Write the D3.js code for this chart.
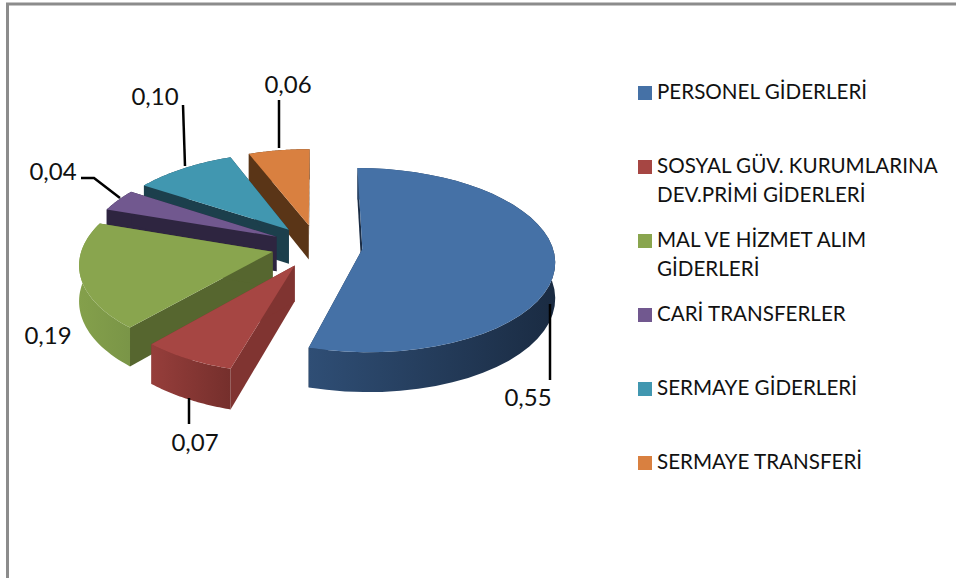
<!DOCTYPE html>
<html lang="tr">
<head>
    <meta charset="UTF-8">
    <title>Gider Dagilimi</title>
    <script src="https://d3js.org/d3.v7.min.js"></script>
    <style>
        body { margin: 0; background: #fff; }
        svg { display: block; }
        text { font-family: Lato, "Open Sans", sans-serif; fill: #111; }
    </style>
</head>
<body>
    <svg id="chart" width="956" height="578"></svg>
    <script>
        // chart data
        const categories = ["PERSONEL GİDERLERİ", "SOSYAL GÜV. KURUMLARINA DEV.PRİMİ GİDERLERİ", "MAL VE HİZMET ALIM GİDERLERİ", "CARİ TRANSFERLER", "SERMAYE GİDERLERİ", "SERMAYE TRANSFERİ"];
        const values = [0.55, 0.07, 0.19, 0.04, 0.10, 0.06];
        const legendLines = [["PERSONEL GİDERLERİ"], ["SOSYAL GÜV. KURUMLARINA", "DEV.PRİMİ GİDERLERİ"], ["MAL VE HİZMET ALIM", "GİDERLERİ"], ["CARİ TRANSFERLER"], ["SERMAYE GİDERLERİ"], ["SERMAYE TRANSFERİ"]];

        // colours: top face, radial wall, outer wall left and right
        const topColors = ["#4571a6", "#a64643", "#89a54e", "#71588f", "#4197b0", "#d98040"];
        const sideColors = ["#1b2d45", "#803431", "#56662f", "#2e2540", "#1c3f4c", "#5a3517"];
        const wallLeft = ["#2f4e75", "#963e3b", "#84a04b", "#2e2540", "#1c3f4c", "#5a3517"];
        const wallRight = ["#1a2b42", "#752f2c", "#7a9547", "#2e2540", "#1c3f4c", "#5a3517"];

        // label text position and leader line per slice
        const labelPos = [[528, 406], [195, 451], [48, 344], [53, 180], [155, 105], [288, 93]];
        const leaders = [
            [[550, 304], [550, 380]],
            [[189, 398], [189, 424]],
            [],
            [[81, 178], [94, 178], [120, 198]],
            [[183, 105], [185, 166]],
            [[279, 100], [279, 148]]
        ];

        const svg = d3.select("#chart");
        const defs = svg.append("defs");

        // frame
        svg.append("path")
            .attr("d", "M7.5,578V4H956")
            .attr("fill", "none")
            .attr("stroke", "#8c8c8c")
            .attr("stroke-width", 3);

        // pie plane -> screen, with some perspective
        const x = d3.scaleLinear().domain([-1, 1]).range([317 - 190, 317 + 190]);
        const y = d3.scaleLinear().domain([-1, 1]).range([246 - 90, 246 + 90]);
        const persp = 0.12, depth = 35, explodeAmount = 0.24;

        function project(u, v, z) {
            const s = 1 / (1 - persp * v);
            return [x(u * s), y(v * s) + z * s];
        }

        const pie = d3.pie().sort(null).value(d => d);
        const arcs = pie(values);
        const line = d3.line();

        const slices = svg.append("g").attr("class", "slices");

        function drawSlice(d, i) {
            const mid = (d.startAngle + d.endAngle) / 2;
            const ox = explodeAmount * Math.sin(mid);
            const oy = -explodeAmount * Math.cos(mid);
            const rim = t => [ox + Math.sin(t), oy - Math.cos(t)];
            const angles = d3.range(41).map(k => d.startAngle + (d.endAngle - d.startAngle) * k / 40);

            const g = slices.append("g");
            const radialWall = t => {
                const p = rim(t);
                return line([project(ox, oy, 0), project(p[0], p[1], 0), project(p[0], p[1], depth), project(ox, oy, depth)]) + "Z";
            };

            g.append("path").attr("d", radialWall(d.startAngle)).attr("fill", sideColors[i]);
            g.append("path").attr("d", radialWall(d.endAngle)).attr("fill", sideColors[i]);

            // outer wall with left to right shading
            const upper = angles.map(t => project(...rim(t), 0));
            const lower = angles.map(t => project(...rim(t), depth)).reverse();
            const xs = d3.extent(upper, p => p[0]);
            const grad = defs.append("linearGradient")
                .attr("id", "wall" + i)
                .attr("gradientUnits", "userSpaceOnUse")
                .attr("x1", xs[0]).attr("x2", xs[1]).attr("y1", 0).attr("y2", 0);
            grad.append("stop").attr("offset", 0).attr("stop-color", wallLeft[i]);
            grad.append("stop").attr("offset", 1).attr("stop-color", wallRight[i]);
            g.append("path").attr("d", line(upper.concat(lower)) + "Z").attr("fill", `url(#wall${i})`);

            // top face
            g.append("path")
                .attr("d", line([project(ox, oy, 0)].concat(upper)) + "Z")
                .attr("fill", topColors[i]);
        }

        // back slices first
        [5, 4, 3, 2, 1, 0].forEach(i => drawSlice(arcs[i], i));

        // leader lines
        svg.append("g").selectAll("path")
            .data(leaders.filter(l => l.length))
            .join("path")
            .attr("d", line)
            .attr("fill", "none")
            .attr("stroke", "#000")
            .attr("stroke-width", 2.5);

        // data labels with decimal comma
        const fmt = d3.formatLocale({ decimal: ",", thousands: ".", grouping: [3], currency: ["", ""] }).format(".2f");
        svg.append("g").selectAll("text")
            .data(values)
            .join("text")
            .attr("x", (d, i) => labelPos[i][0])
            .attr("y", (d, i) => labelPos[i][1])
            .attr("text-anchor", "middle")
            .style("font-size", "24px")
            .text(d => fmt(d));

        // legend
        const legendY = d3.scaleLinear().domain([0, 5]).range([93, 463]);
        const legend = svg.append("g").selectAll("g")
            .data(categories)
            .join("g")
            .attr("transform", (d, i) => `translate(638,${legendY(i)})`);

        legend.append("rect")
            .attr("y", -7)
            .attr("width", 14)
            .attr("height", 14)
            .attr("fill", (d, i) => topColors[i]);

        legend.each(function(d, i) {
            d3.select(this).selectAll("text")
                .data(legendLines[i])
                .join("text")
                .attr("x", 19)
                .attr("y", (t, k) => 6 + k * 29)
                .style("font-size", "20.6px")
                .text(t => t);
        });
    </script>
</body>
</html>
